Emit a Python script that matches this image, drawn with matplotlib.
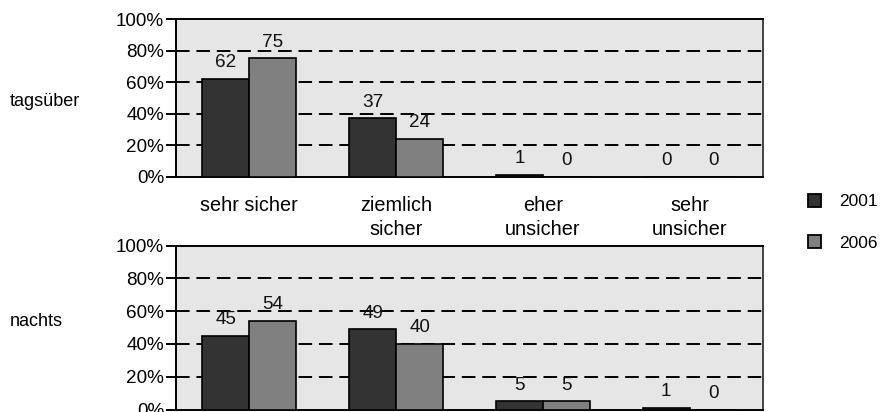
import matplotlib
matplotlib.use("Agg")
import matplotlib.pyplot as plt
from matplotlib.patches import Patch
import numpy as np

plt.rcParams['font.family'] = ['Liberation Sans', 'DejaVu Sans']

categories = ["sehr sicher", "ziemlich\nsicher", "eher\nunsicher", "sehr\nunsicher"]
series_names = ["2001", "2006"]
tags_2001 = [62, 37, 1, 0]
tags_2006 = [75, 24, 0, 0]
nachts_2001 = [45, 49, 5, 1]
nachts_2006 = [54, 40, 5, 0]
panel_labels = ["tagsüber", "nachts"]
yticks = [0, 20, 40, 60, 80, 100]
ytick_labels = ["0%", "20%", "40%", "60%", "80%", "100%"]

colors = ["#333333", "#808080"]
bg = "#E6E6E6"
FS_CAT = 14.3
FS_TICK = 13.6
FS_VAL = 13.6
FS_SIDE = 13.0
FS_LEG = 12.5

W, H = 881, 412
fig = plt.figure(figsize=(W / 100, H / 100), dpi=100)

def ax_rect(left, top, right, bottom):
    return [left / W, 1 - bottom / H, (right - left) / W, (bottom - top) / H]

ax1 = fig.add_axes(ax_rect(176, 19, 763, 176.7))
ax2 = fig.add_axes(ax_rect(176, 245.7, 763, 409.5))

x = np.arange(len(categories))
bw = 0.32

panel_label_y = [101, 321]

for ax, s1, s2, plab, py in [(ax1, tags_2001, tags_2006, panel_labels[0], panel_label_y[0]),
                             (ax2, nachts_2001, nachts_2006, panel_labels[1], panel_label_y[1])]:
    ax.set_facecolor(bg)
    ax.set_xlim(-0.5, len(categories) - 0.5)
    ax.set_ylim(0, 100)
    for i, (vals, col) in enumerate([(s1, colors[0]), (s2, colors[1])]):
        xs = x + (i - 0.5) * bw
        ax.bar(xs, vals, width=bw, color=col, edgecolor="black", linewidth=1.2, zorder=3)
        for xi, v in zip(xs, vals):
            ax.annotate(str(v), (xi, v), xytext=(0, 5.5), textcoords="offset points",
                        ha="center", va="bottom", fontsize=FS_VAL, color="#111111", zorder=4)
    for yv in yticks[1:-1]:
        ax.axhline(yv, color="black", linewidth=1.4, linestyle=(0, (7.0, 3.5)), zorder=1)
    ax.set_yticks(yticks)
    ax.set_yticklabels(ytick_labels, fontsize=FS_TICK)
    ax.tick_params(axis="y", direction="out", length=7.5, width=1.4, pad=1, color="black")
    ax.set_xticks([])
    for sp in ["left", "bottom", "top"]:
        ax.spines[sp].set_color("black")
        ax.spines[sp].set_linewidth(1.4)
    ax.spines["right"].set_color("#444444")
    ax.spines["right"].set_linewidth(1.4)
    fig.text(10 / W, 1 - py / H, plab, fontsize=FS_SIDE, ha="left", va="center")

# category labels between panels
for xi, cat in zip(x, categories):
    ax1.annotate(cat, (xi, 0), xytext=(0, -14), textcoords="offset points",
                 ha="center", va="top", fontsize=FS_CAT, linespacing=1.35)

handles = [Patch(facecolor=c, edgecolor="black", linewidth=1.3) for c in colors]
fig.legend(handles, series_names, loc="upper left", bbox_to_anchor=(801 / W, 1 - 187 / H),
           frameon=False, fontsize=FS_LEG, handlelength=0.75, handleheight=0.75,
           handletextpad=1.05, labelspacing=1.5, borderaxespad=0)

fig.savefig("out.png", dpi=100)
